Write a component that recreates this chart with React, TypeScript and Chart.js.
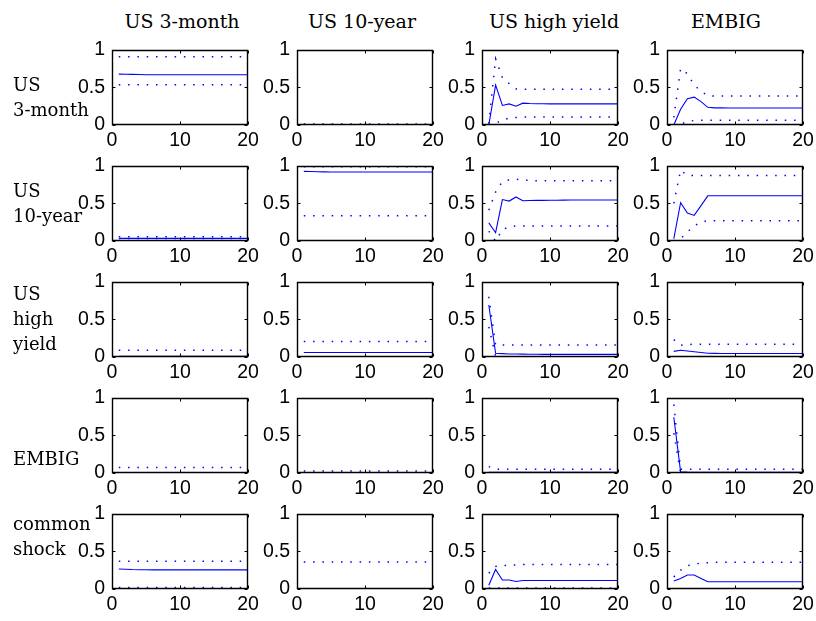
import React, { useEffect, useRef } from "react";
import { Chart, registerables } from "chart.js";

Chart.register(...registerables);

// ---------- data ----------
const steps = [1, 2, 3, 4, 5, 6, 7, 8, 9, 10, 11, 12, 13, 14, 15, 16, 17, 18, 19, 20];

const columnTitles = ["US 3-month", "US 10-year", "US high yield", "EMBIG"];
const rowLabels = [["US", "3-month"], ["US", "10-year"], ["US", "high", "yield"], ["EMBIG"], ["common", "shock"]];

// row 1: US 3-month
const mid11 = [0.675, 0.674, 0.672, 0.670, 0.668, 0.667, 0.667, 0.667, 0.667, 0.667, 0.667, 0.667, 0.667, 0.667, 0.667, 0.667, 0.667, 0.667, 0.667, 0.667];
const hi11 = [0.905, 0.905, 0.905, 0.905, 0.905, 0.905, 0.905, 0.905, 0.905, 0.905, 0.905, 0.905, 0.905, 0.905, 0.905, 0.905, 0.905, 0.905, 0.905, 0.905];
const lo11 = [0.535, 0.535, 0.535, 0.535, 0.535, 0.535, 0.535, 0.535, 0.535, 0.535, 0.535, 0.535, 0.535, 0.535, 0.535, 0.535, 0.535, 0.535, 0.535, 0.535];

const mid12 = [0.005, 0.005, 0.005, 0.005, 0.005, 0.005, 0.005, 0.005, 0.005, 0.005, 0.005, 0.005, 0.005, 0.005, 0.005, 0.005, 0.005, 0.005, 0.005, 0.005];
const hi12 = [0.012, 0.012, 0.012, 0.012, 0.012, 0.012, 0.012, 0.012, 0.012, 0.012, 0.012, 0.012, 0.012, 0.012, 0.012, 0.012, 0.012, 0.012, 0.012, 0.012];
const lo12 = [0, 0, 0, 0, 0, 0, 0, 0, 0, 0, 0, 0, 0, 0, 0, 0, 0, 0, 0, 0];

const mid13 = [0, 0.53, 0.26, 0.28, 0.25, 0.29, 0.285, 0.283, 0.282, 0.281, 0.28, 0.28, 0.28, 0.28, 0.28, 0.28, 0.28, 0.28, 0.28, 0.28];
const hi13 = [0.02, 0.88, 0.63, 0.55, 0.48, 0.475, 0.475, 0.475, 0.475, 0.475, 0.475, 0.475, 0.475, 0.475, 0.475, 0.475, 0.475, 0.475, 0.475, 0.475];
const lo13 = [0, 0.02, 0.07, 0.09, 0.1, 0.105, 0.105, 0.105, 0.105, 0.105, 0.105, 0.105, 0.105, 0.105, 0.105, 0.105, 0.105, 0.105, 0.105, 0.105];

const mid14 = [0, 0.21, 0.35, 0.37, 0.31, 0.235, 0.228, 0.227, 0.226, 0.226, 0.226, 0.226, 0.226, 0.226, 0.226, 0.226, 0.226, 0.226, 0.226, 0.226];
const hi14 = [0.1, 0.75, 0.68, 0.53, 0.45, 0.39, 0.385, 0.385, 0.385, 0.385, 0.385, 0.385, 0.385, 0.385, 0.385, 0.385, 0.385, 0.385, 0.385, 0.385];
const lo14 = [0, 0.01, 0.045, 0.06, 0.063, 0.063, 0.063, 0.063, 0.063, 0.063, 0.063, 0.063, 0.063, 0.063, 0.063, 0.063, 0.063, 0.063, 0.063, 0.063];

// row 2: US 10-year
const mid21 = [0.035, 0.035, 0.035, 0.035, 0.035, 0.035, 0.035, 0.035, 0.035, 0.035, 0.035, 0.035, 0.035, 0.035, 0.035, 0.035, 0.035, 0.035, 0.035, 0.035];
const hi21 = [0.055, 0.055, 0.055, 0.055, 0.055, 0.055, 0.055, 0.055, 0.055, 0.055, 0.055, 0.055, 0.055, 0.055, 0.055, 0.055, 0.055, 0.055, 0.055, 0.055];
const lo21 = [0.005, 0.005, 0.005, 0.005, 0.005, 0.005, 0.005, 0.005, 0.005, 0.005, 0.005, 0.005, 0.005, 0.005, 0.005, 0.005, 0.005, 0.005, 0.005, 0.005];

const mid22 = [0.925, 0.922, 0.92, 0.918, 0.917, 0.917, 0.917, 0.917, 0.917, 0.917, 0.917, 0.917, 0.917, 0.917, 0.917, 0.917, 0.917, 0.917, 0.917, 0.917];
const hi22 = [0.985, 0.985, 0.985, 0.985, 0.985, 0.985, 0.985, 0.985, 0.985, 0.985, 0.985, 0.985, 0.985, 0.985, 0.985, 0.985, 0.985, 0.985, 0.985, 0.985];
const lo22 = [0.335, 0.335, 0.335, 0.335, 0.335, 0.335, 0.335, 0.335, 0.335, 0.335, 0.335, 0.335, 0.335, 0.335, 0.335, 0.335, 0.335, 0.335, 0.335, 0.335];

const mid23 = [0.24, 0.11, 0.55, 0.53, 0.585, 0.535, 0.538, 0.539, 0.54, 0.541, 0.542, 0.543, 0.544, 0.545, 0.545, 0.545, 0.545, 0.545, 0.545, 0.545];
const hi23 = [0.41, 0.65, 0.79, 0.81, 0.82, 0.81, 0.805, 0.8, 0.8, 0.8, 0.8, 0.8, 0.8, 0.8, 0.8, 0.8, 0.8, 0.8, 0.8, 0.8];
const lo23 = [0.13, 0.0, 0.15, 0.19, 0.2, 0.2, 0.2, 0.2, 0.2, 0.2, 0.2, 0.2, 0.2, 0.2, 0.2, 0.2, 0.2, 0.2, 0.2, 0.2];

const mid24 = [0.03, 0.51, 0.37, 0.34, 0.47, 0.6, 0.6, 0.6, 0.6, 0.6, 0.6, 0.6, 0.6, 0.6, 0.6, 0.6, 0.6, 0.6, 0.6, 0.6];
const hi24 = [0.5, 0.94, 0.87, 0.87, 0.87, 0.87, 0.87, 0.87, 0.87, 0.87, 0.87, 0.87, 0.87, 0.87, 0.87, 0.87, 0.87, 0.87, 0.87, 0.87];
const lo24 = [0, 0.03, 0.12, 0.2, 0.25, 0.27, 0.27, 0.27, 0.27, 0.27, 0.27, 0.27, 0.27, 0.27, 0.27, 0.27, 0.27, 0.27, 0.27, 0.27];

// row 3: US high yield
const mid31 = [0.01, 0.01, 0.01, 0.01, 0.01, 0.01, 0.01, 0.01, 0.01, 0.01, 0.01, 0.01, 0.01, 0.01, 0.01, 0.01, 0.01, 0.01, 0.01, 0.01];
const hi31 = [0.09, 0.09, 0.09, 0.09, 0.09, 0.09, 0.09, 0.09, 0.09, 0.09, 0.09, 0.09, 0.09, 0.09, 0.09, 0.09, 0.09, 0.09, 0.09, 0.09];
const lo31 = [0, 0, 0, 0, 0, 0, 0, 0, 0, 0, 0, 0, 0, 0, 0, 0, 0, 0, 0, 0];

const mid32 = [0.06, 0.06, 0.06, 0.06, 0.06, 0.06, 0.06, 0.06, 0.06, 0.06, 0.06, 0.06, 0.06, 0.06, 0.06, 0.06, 0.06, 0.06, 0.06, 0.06];
const hi32 = [0.205, 0.205, 0.205, 0.205, 0.205, 0.205, 0.205, 0.205, 0.205, 0.205, 0.205, 0.205, 0.205, 0.205, 0.205, 0.205, 0.205, 0.205, 0.205, 0.205];
const lo32 = [0, 0, 0, 0, 0, 0, 0, 0, 0, 0, 0, 0, 0, 0, 0, 0, 0, 0, 0, 0];

const mid33 = [0.69, 0.05, 0.045, 0.04, 0.04, 0.038, 0.037, 0.036, 0.035, 0.035, 0.035, 0.035, 0.035, 0.035, 0.035, 0.035, 0.035, 0.035, 0.035, 0.035];
const hi33 = [0.8, 0.16, 0.16, 0.16, 0.16, 0.16, 0.16, 0.16, 0.16, 0.16, 0.16, 0.16, 0.16, 0.16, 0.16, 0.16, 0.16, 0.16, 0.16, 0.16];
const lo33 = [0.4, 0.01, 0, 0, 0, 0, 0, 0, 0, 0, 0, 0, 0, 0, 0, 0, 0, 0, 0, 0];

const mid34 = [0.075, 0.09, 0.08, 0.07, 0.06, 0.05, 0.048, 0.047, 0.047, 0.047, 0.047, 0.047, 0.047, 0.047, 0.047, 0.047, 0.047, 0.047, 0.047, 0.047];
const hi34 = [0.23, 0.155, 0.165, 0.17, 0.17, 0.17, 0.17, 0.17, 0.17, 0.17, 0.17, 0.17, 0.17, 0.17, 0.17, 0.17, 0.17, 0.17, 0.17, 0.17];
const lo34 = [0, 0, 0, 0, 0, 0, 0, 0, 0, 0, 0, 0, 0, 0, 0, 0, 0, 0, 0, 0];

// row 4: EMBIG
const mid41 = [0.002, 0.002, 0.002, 0.002, 0.002, 0.002, 0.002, 0.002, 0.002, 0.002, 0.002, 0.002, 0.002, 0.002, 0.002, 0.002, 0.002, 0.002, 0.002, 0.002];
const hi41 = [0.073, 0.073, 0.073, 0.073, 0.073, 0.073, 0.073, 0.073, 0.073, 0.073, 0.073, 0.073, 0.073, 0.073, 0.073, 0.073, 0.073, 0.073, 0.073, 0.073];
const lo41 = [0, 0, 0, 0, 0, 0, 0, 0, 0, 0, 0, 0, 0, 0, 0, 0, 0, 0, 0, 0];

const mid42 = [0.005, 0.005, 0.005, 0.005, 0.005, 0.005, 0.005, 0.005, 0.005, 0.005, 0.005, 0.005, 0.005, 0.005, 0.005, 0.005, 0.005, 0.005, 0.005, 0.005];
const hi42 = [0.026, 0.026, 0.026, 0.026, 0.026, 0.026, 0.026, 0.026, 0.026, 0.026, 0.026, 0.026, 0.026, 0.026, 0.026, 0.026, 0.026, 0.026, 0.026, 0.026];
const lo42 = [0, 0, 0, 0, 0, 0, 0, 0, 0, 0, 0, 0, 0, 0, 0, 0, 0, 0, 0, 0];

const mid43 = [0.008, 0.008, 0.008, 0.008, 0.008, 0.008, 0.008, 0.008, 0.008, 0.008, 0.008, 0.008, 0.008, 0.008, 0.008, 0.008, 0.008, 0.008, 0.008, 0.008];
const hi43 = [0.085, 0.05, 0.05, 0.05, 0.05, 0.05, 0.05, 0.05, 0.05, 0.05, 0.05, 0.05, 0.05, 0.05, 0.05, 0.05, 0.05, 0.05, 0.05, 0.05];
const lo43 = [0, 0, 0, 0, 0, 0, 0, 0, 0, 0, 0, 0, 0, 0, 0, 0, 0, 0, 0, 0];

const mid44 = [0.74, 0.017, 0.012, 0.01, 0.01, 0.01, 0.01, 0.01, 0.01, 0.01, 0.01, 0.01, 0.01, 0.01, 0.01, 0.01, 0.01, 0.01, 0.01, 0.01];
const hi44 = [0.91, 0.05, 0.05, 0.05, 0.05, 0.05, 0.05, 0.05, 0.05, 0.05, 0.05, 0.05, 0.05, 0.05, 0.05, 0.05, 0.05, 0.05, 0.05, 0.05];
const lo44 = [0.53, 0, 0, 0, 0, 0, 0, 0, 0, 0, 0, 0, 0, 0, 0, 0, 0, 0, 0, 0];

// row 5: common shock
const mid51 = [0.265, 0.262, 0.258, 0.256, 0.255, 0.254, 0.254, 0.254, 0.254, 0.254, 0.254, 0.254, 0.254, 0.254, 0.254, 0.254, 0.254, 0.254, 0.254, 0.254];
const hi51 = [0.37, 0.37, 0.37, 0.37, 0.37, 0.37, 0.37, 0.37, 0.37, 0.37, 0.37, 0.37, 0.37, 0.37, 0.37, 0.37, 0.37, 0.37, 0.37, 0.37];
const lo51 = [0.02, 0.02, 0.02, 0.02, 0.02, 0.02, 0.02, 0.02, 0.02, 0.02, 0.02, 0.02, 0.02, 0.02, 0.02, 0.02, 0.02, 0.02, 0.02, 0.02];

const mid52 = [0.002, 0.002, 0.002, 0.002, 0.002, 0.002, 0.002, 0.002, 0.002, 0.002, 0.002, 0.002, 0.002, 0.002, 0.002, 0.002, 0.002, 0.002, 0.002, 0.002];
const hi52 = [0.36, 0.36, 0.36, 0.36, 0.36, 0.36, 0.36, 0.36, 0.36, 0.36, 0.36, 0.36, 0.36, 0.36, 0.36, 0.36, 0.36, 0.36, 0.36, 0.36];
const lo52 = [0, 0, 0, 0, 0, 0, 0, 0, 0, 0, 0, 0, 0, 0, 0, 0, 0, 0, 0, 0];

const mid53 = [0.05, 0.26, 0.12, 0.12, 0.1, 0.113, 0.113, 0.113, 0.113, 0.113, 0.113, 0.113, 0.113, 0.113, 0.113, 0.113, 0.113, 0.113, 0.113, 0.113];
const hi53 = [0.21, 0.3, 0.31, 0.315, 0.32, 0.325, 0.325, 0.325, 0.325, 0.325, 0.325, 0.325, 0.325, 0.325, 0.325, 0.325, 0.325, 0.325, 0.325, 0.325];
const lo53 = [0.013, 0.013, 0.013, 0.013, 0.013, 0.013, 0.013, 0.013, 0.013, 0.013, 0.013, 0.013, 0.013, 0.013, 0.013, 0.013, 0.013, 0.013, 0.013, 0.013];

const mid54 = [0.105, 0.14, 0.185, 0.185, 0.14, 0.097, 0.097, 0.097, 0.097, 0.097, 0.097, 0.097, 0.097, 0.097, 0.097, 0.097, 0.097, 0.097, 0.097, 0.097];
const hi54 = [0.16, 0.25, 0.31, 0.33, 0.345, 0.35, 0.354, 0.354, 0.354, 0.354, 0.354, 0.354, 0.354, 0.354, 0.354, 0.354, 0.354, 0.354, 0.354, 0.354];
const lo54 = [0, 0, 0, 0, 0, 0, 0, 0, 0, 0, 0, 0, 0, 0, 0, 0, 0, 0, 0, 0];

const panels = [
  [[mid11, hi11, lo11], [mid12, hi12, lo12], [mid13, hi13, lo13], [mid14, hi14, lo14]],
  [[mid21, hi21, lo21], [mid22, hi22, lo22], [mid23, hi23, lo23], [mid24, hi24, lo24]],
  [[mid31, hi31, lo31], [mid32, hi32, lo32], [mid33, hi33, lo33], [mid34, hi34, lo34]],
  [[mid41, hi41, lo41], [mid42, hi42, lo42], [mid43, hi43, lo43], [mid44, hi44, lo44]],
  [[mid51, hi51, lo51], [mid52, hi52, lo52], [mid53, hi53, lo53], [mid54, hi54, lo54]],
];

// ---------- layout ----------
const PLOT_LEFTS = [112, 297, 482, 667];
const PLOT_TOPS = [47, 163, 279, 395, 511];
const PLOT_W = 136;
const PLOT_H = 78;
const YW = 60; // y-axis box width
const XH = 34; // x-axis box height
const PT = 16; // top padding
const PR = 24; // right padding
const TITLE_CENTERS = [182, 362, 554, 726];
const ROW_LABEL_TOPS = [72, 178, 281, 446, 511];
const BLUE = "rgb(0,0,255)";
const TICK_FONT = { family: "Liberation Sans", size: 19.5 };
const SERIF = "'DejaVu Serif', serif";

const boxPlugin = {
  id: "matlabBox",
  afterDatasetsDraw(chart: any) {
    const { ctx, chartArea: a, scales } = chart;
    ctx.save();
    ctx.strokeStyle = "#000";
    ctx.lineWidth = 1.4;
    const l = Math.round(a.left) + 0.5;
    const r = Math.round(a.right) - 0.5;
    const t = Math.round(a.top) + 0.5;
    const b = Math.round(a.bottom) - 0.5;
    ctx.beginPath();
    ctx.rect(l, t, r - l, b - t);
    ctx.stroke();
    ctx.lineWidth = 1;
    ctx.beginPath();
    const tl = 3;
    for (const tk of scales.x.ticks) {
      const px = Math.round(scales.x.getPixelForValue(tk.value)) + 0.5;
      ctx.moveTo(px, b);
      ctx.lineTo(px, b - tl);
      ctx.moveTo(px, t);
      ctx.lineTo(px, t + tl);
    }
    for (const tk of scales.y.ticks) {
      const py = Math.round(scales.y.getPixelForValue(tk.value)) + 0.5;
      ctx.moveTo(l, py);
      ctx.lineTo(l + tl, py);
      ctx.moveTo(r, py);
      ctx.lineTo(r - tl, py);
    }
    ctx.stroke();
    ctx.restore();
  },
};

function Panel({ series, left, top }: { series: number[][]; left: number; top: number }) {
  const ref = useRef<HTMLCanvasElement | null>(null);
  useEffect(() => {
    if (!ref.current) return;
    const [mid, hi, lo] = series;
    const toPts = (arr: number[]) => steps.map((s, i) => ({ x: s, y: arr[i] }));
    const dotted = { borderColor: BLUE, borderWidth: 1.5, borderDash: [1.5, 7.8], pointRadius: 0, fill: false, tension: 0 };
    const chart = new Chart(ref.current, {
      type: "line",
      data: {
        datasets: [
          { ...dotted, data: toPts(hi) },
          { ...dotted, data: toPts(lo) },
          { borderColor: BLUE, borderWidth: 1.1, pointRadius: 0, fill: false, tension: 0, data: toPts(mid) },
        ],
      },
      options: {
        animation: false,
        responsive: false,
        events: [],
        layout: { padding: { top: PT, right: PR, left: 0, bottom: 0 } },
        plugins: { legend: { display: false }, tooltip: { enabled: false }, title: { display: false } },
        scales: {
          x: {
            type: "linear",
            min: 0,
            max: 20,
            ticks: { stepSize: 10, font: TICK_FONT, color: "#000", padding: 4, maxRotation: 0, minRotation: 0, autoSkip: false, callback: (v: any) => String(v) },
            grid: { display: false, drawTicks: false },
            border: { display: false },
            afterFit: (s: any) => {
              s.height = XH;
            },
          },
          y: {
            min: 0,
            max: 1,
            ticks: { stepSize: 0.5, font: TICK_FONT, color: "#000", padding: 7, autoSkip: false, callback: (v: any) => String(v) },
            grid: { display: false, drawTicks: false },
            border: { display: false },
            afterFit: (s: any) => {
              s.width = YW;
            },
          },
        },
      } as any,
      plugins: [boxPlugin],
    });
    return () => chart.destroy();
  }, [series]);
  return (
    <canvas
      ref={ref}
      width={YW + PLOT_W + PR}
      height={PT + PLOT_H + XH}
      style={{ position: "absolute", left: left - YW, top: top - PT, width: YW + PLOT_W + PR, height: PT + PLOT_H + XH }}
    />
  );
}

export default function App() {
  return (
    <div style={{ position: "absolute", left: 0, top: 0, width: 816, height: 621, background: "#fff", overflow: "hidden" }}>
      {columnTitles.map((t, c) => (
        <div
          key={"t" + c}
          style={{
            position: "absolute",
            left: TITLE_CENTERS[c] - 100,
            width: 200,
            top: 11,
            textAlign: "center",
            fontFamily: SERIF,
            fontSize: 19,
            lineHeight: "20px",
            color: "#000",
            whiteSpace: "nowrap",
          }}
        >
          {t}
        </div>
      ))}
      {rowLabels.map((lines, r) => (
        <div
          key={"r" + r}
          style={{
            position: "absolute",
            left: 13,
            top: ROW_LABEL_TOPS[r],
            fontFamily: SERIF,
            fontSize: 18,
            lineHeight: "25px",
            color: "#000",
            whiteSpace: "nowrap",
            zIndex: 2,
          }}
        >
          {lines.map((ln, i) => (
            <div key={i}>{ln}</div>
          ))}
        </div>
      ))}
      {panels.map((row, r) =>
        row.map((series, c) => <Panel key={r + "-" + c} series={series} left={PLOT_LEFTS[c]} top={PLOT_TOPS[r]} />)
      )}
    </div>
  );
}
